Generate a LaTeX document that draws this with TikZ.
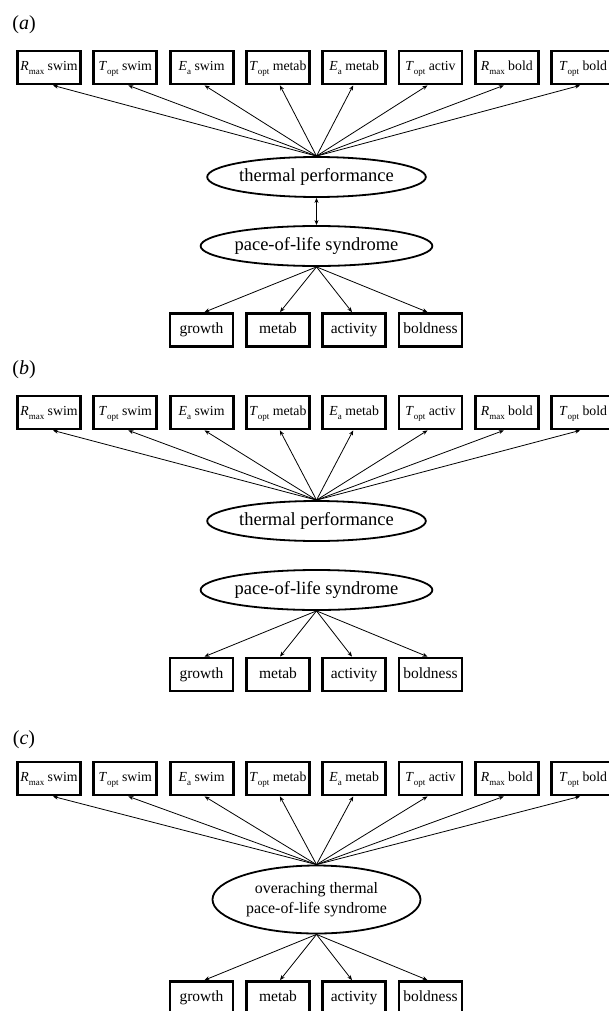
\documentclass[tikz,border=0pt]{standalone}
\usepackage{fontspec}
\setmainfont{Liberation Serif}
\usetikzlibrary{arrows.meta,shapes.geometric,calc}
\newcommand\sbs[1]{\raisebox{-3.5pt}{\fontsize{9}{9}\selectfont #1}}
\tikzset{
  obs/.style={draw, line width=2.8pt, minimum width=63pt, minimum height=33pt,
    inner sep=0pt, text height=9.5pt, text depth=3pt, font=\fontsize{13.8}{16}\selectfont},
  obsb/.style={obs, text height=10.5pt, text depth=3.5pt, font=\fontsize{15.5}{18}\selectfont},
  lat/.style={draw, ellipse, line width=1.8pt, minimum width=212pt, minimum height=40pt,
    inner sep=0pt, text height=12.5pt, text depth=4pt, font=\fontsize{18.5}{21}\selectfont},
  arr/.style={-{Stealth[length=5pt,width=4pt]}, line width=0.8pt},
  darr/.style={{Stealth[length=5pt,width=4pt]}-{Stealth[length=5pt,width=4pt]}, line width=0.8pt},
  plabel/.style={font=\fontsize{20}{22}\selectfont, inner sep=0pt}
}
\begin{document}
\begin{tikzpicture}[x=1pt,y=-1pt]
\useasboundingbox (0,0) rectangle (609,1011);
\clip (0,0) rectangle (609,1011);
% panel labels
\node[plabel] (la) at (24,25) {(\textit{a})};
\node[plabel] (lb) at (24,370) {(\textit{b})};
\node[plabel] (lc) at (24,740) {(\textit{c})};
% top boxes
\foreach \p/\y in {a/67.5,b/412.5,c/778.5}{
  \foreach \i/\t in {1/{\textit{R}\sbs{max} swim},2/{\textit{T}\sbs{opt} swim},3/{\textit{E}\sbs{a} swim},4/{\textit{T}\sbs{opt} metab},5/{\textit{E}\sbs{a} metab},6/{\textit{T}\sbs{opt} activ},7/{\textit{R}\sbs{max} bold},8/{\textit{T}\sbs{opt} bold}}{
    \node[obs] (\p t\i) at ({49+76.3*(\i-1)},\y) {\t};
  }
}
% bottom boxes
\foreach \p/\y in {a/330,b/674.5,c/998}{
  \foreach \i/\x/\t in {1/201.5/growth,2/278/metab,3/354/activity,4/430.5/boldness}{
    \node[obsb] (\p g\i) at (\x,\y) {\t};
  }
}
% ellipses
\node[lat] (ath) at (316.5,177) {thermal performance};
\node[lat] (aps) at (316.5,246) {pace-of-life syndrome};
\node[lat] (bth) at (316.5,521) {thermal performance};
\node[lat] (bps) at (316.5,590) {pace-of-life syndrome};
\node[draw, ellipse, line width=1.8pt, inner sep=0pt, minimum width=208pt, minimum height=68pt, align=center,
  font=\fontsize{15.9}{19.5}\selectfont] (cth) at (316.5,899.5) {overaching thermal\\pace-of-life syndrome};
% arrows to top boxes
\foreach \p/\e in {a/ath,b/bth,c/cth}{
  \foreach \i/\s in {1/4,2/3,3/3,4/2,5/-1,6/-3,7/-3,8/-3}{
    \draw[arr] (\e.north) -- ([xshift=\s pt]\p t\i.south);
  }
}
% arrows to bottom boxes
\foreach \p/\e in {a/aps,b/bps,c/cth}{
  \foreach \i/\s in {1/3,2/2,3/-2,4/-3}{
    \draw[arr] (\e.south) -- ([xshift=\s pt]\p g\i.north);
  }
}
% correlation in (a)
\draw[darr] (ath.south) -- (aps.north);
\end{tikzpicture}
\end{document}
